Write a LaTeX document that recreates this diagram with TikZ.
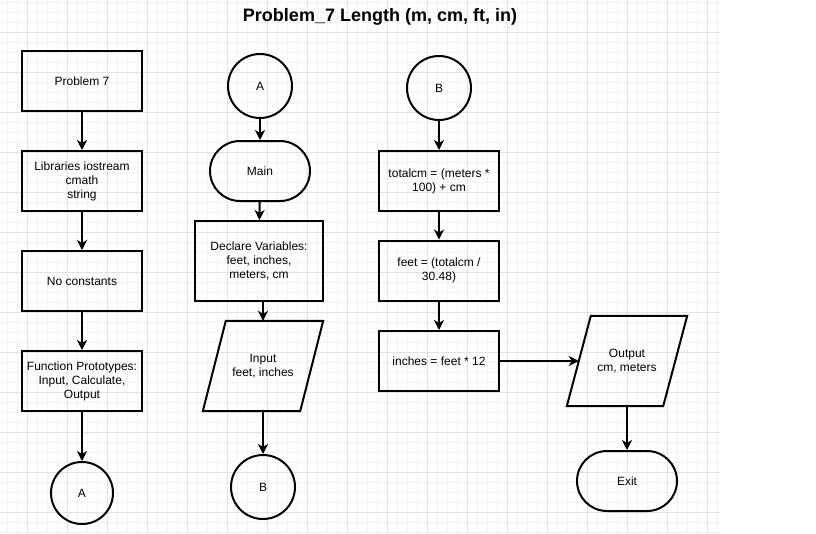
\documentclass[tikz,border=0pt]{standalone}
\usepackage{fontspec}
\setmainfont{Liberation Sans}
\usetikzlibrary{arrows.meta,shapes.geometric}
\begin{document}
\begin{tikzpicture}[x=1pt,y=-1pt,
  every node/.style={font=\fontsize{12}{14}\selectfont, align=center, inner sep=0pt},
  procbox/.style={draw, line width=2pt, rectangle, minimum width=120pt, minimum height=60pt},
  termbox/.style={draw, line width=2pt, rectangle, rounded corners=30pt, minimum width=100pt, minimum height=60pt},
  connbox/.style={draw, line width=2pt, circle, minimum size=64pt},
  iobox/.style={rectangle, minimum width=97pt, minimum height=90pt},
  ioline/.style={line width=2pt, line join=miter},
  flow/.style={line width=2pt, -{Stealth[length=10pt,width=10pt,inset=3pt]}},
  gridminor/.style={line width=0.6pt, draw=black!5},
  gridmajor/.style={line width=0.6pt, draw=black!11}
]
\useasboundingbox (0,0) rectangle (816,533);
\fill[white] (0,0) rectangle (816,533);
% grid
\foreach \gx in {7,17,...,717} \draw[gridminor] (\gx,0) -- (\gx,533);
\foreach \gy in {2,12,...,532} \draw[gridminor] (0,\gy) -- (720,\gy);
\foreach \gx in {27,67,...,707} \draw[gridmajor] (\gx,0) -- (\gx,533);
\foreach \gy in {32,72,...,512} \draw[gridmajor] (0,\gy) -- (720,\gy);

% title
\node[font=\fontsize{18}{20}\selectfont\bfseries] (title) at (380,17) {Problem\_7 Length (m, cm, ft, in)};

% column 1
\node[procbox] (p7) at (82,81) {Problem 7};
\node[procbox] (lib) at (82,181) {Libraries iostream\\cmath\\string};
\node[procbox] (nc) at (82,281) {No constants};
\node[procbox] (fp) at (82,381) {Function Prototypes:\\Input, Calculate,\\Output};
\node[connbox, minimum size=62pt] (a1) at (82,493) {A};

% column 2
\node[connbox] (a2) at (260,86) {A};
\node[termbox] (main) at (260,171) {Main};
\node[procbox, minimum width=128pt, minimum height=80pt] (decl) at (259,261) {Declare Variables:\\feet, inches,\\meters, cm};
\node[iobox] (inp) at (263,366) {Input\\feet, inches};
\draw[ioline] ([xshift=11.5pt]inp.north west) -- ([xshift=11.5pt]inp.north east) -- ([xshift=-11.5pt]inp.south east) -- ([xshift=-11.5pt]inp.south west) -- cycle;
\node[connbox] (b1) at (263,487) {B};

% column 3
\node[connbox] (b2) at (439,88) {B};
\node[procbox] (tot) at (439,181) {totalcm = (meters *\\100) + cm};
\node[procbox] (feet) at (439,270.5) {feet = (totalcm /\\30.48)};
\node[procbox] (inch) at (439,361) {inches = feet * 12};

% column 4
\node[iobox, minimum width=96pt] (out) at (627,361) {Output\\cm, meters};
\draw[ioline] ([xshift=12pt]out.north west) -- ([xshift=12pt]out.north east) -- ([xshift=-12pt]out.south east) -- ([xshift=-12pt]out.south west) -- cycle;
\node[termbox] (exit) at (627,481) {Exit};

% connectors
\draw[flow] (p7) -- (lib);
\draw[flow] (lib) -- (nc);
\draw[flow] (nc) -- (fp);
\draw[flow] (fp) -- (a1);
\draw[flow] (a2) -- (main);
\draw[flow] (main) -- (decl);
\draw[flow] (inp.north |- decl.south) -- (inp.north);
\draw[flow] (inp) -- (b1);
\draw[flow] (b2) -- (tot);
\draw[flow] (tot) -- (feet);
\draw[flow] (feet) -- (inch);
\draw[flow] (inch) -- (out);
\draw[flow] (out) -- (exit);
\end{tikzpicture}
\end{document}
